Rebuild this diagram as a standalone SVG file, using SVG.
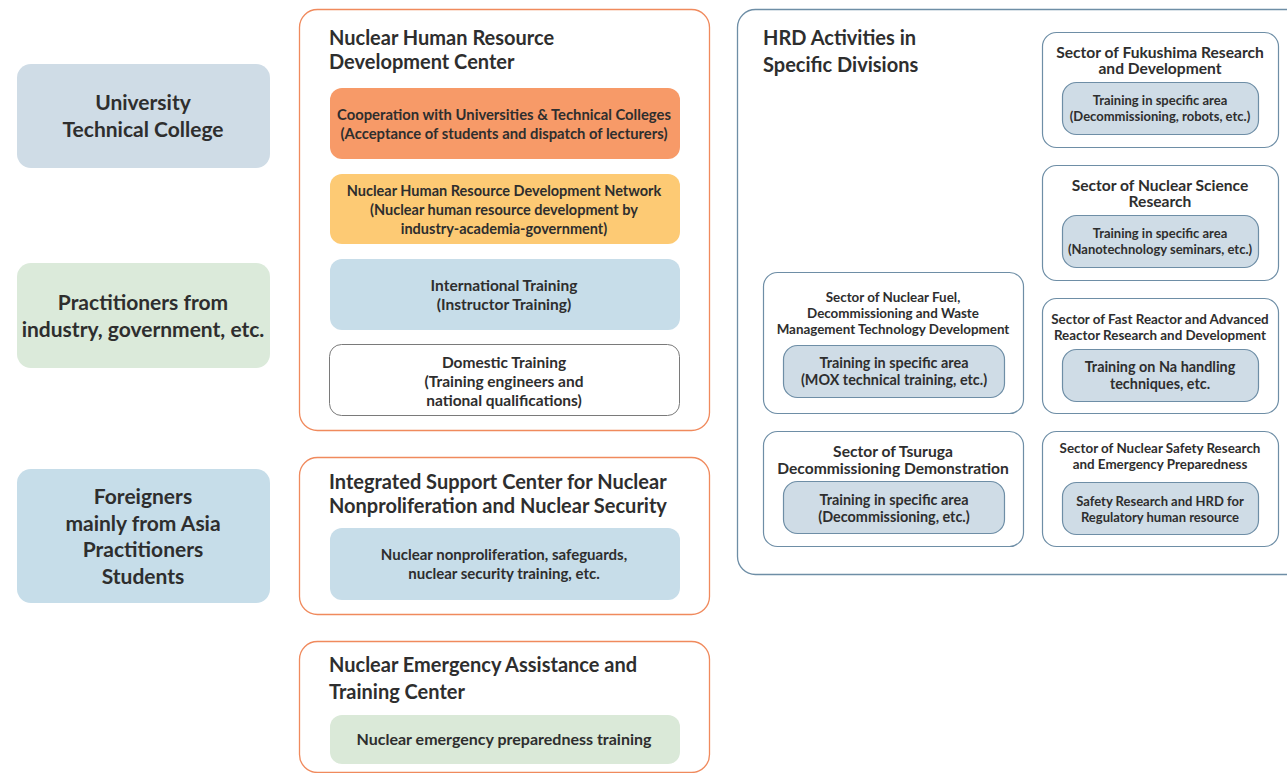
<svg xmlns="http://www.w3.org/2000/svg" width="1287" height="773" viewBox="0 0 1287 773">
<style>
text{font-family:Lato,"Liberation Sans",sans-serif;fill:#2e2e2e;text-anchor:middle}
.h{font-size:20px;font-weight:700;text-anchor:start}
.l{font-size:21px;font-weight:700}
.b{font-size:15.5px;font-weight:700}
.st{font-size:13.4px;font-weight:700}
.sl{font-size:15.6px;font-weight:700}
.in{font-size:13px;font-weight:700}
.il{font-size:14.4px;font-weight:700}
.oc{fill:#fff;stroke:#f08a5d;stroke-width:1.3}
.sc{fill:#fff;stroke:#6e8ea6;stroke-width:1.2}
.ib{fill:#cfdce6;stroke:#6e8ea6;stroke-width:1.2}
</style>
<rect width="1287" height="773" fill="#fff"/>
<g id="left-university"><rect x="17" y="64" width="253" height="104" rx="14" fill="#cfdce6"/><text class="l" x="143" y="110">University</text><text class="l" x="143" y="137">Technical College</text></g>
<g id="left-practitioners"><rect x="17" y="263" width="253" height="105" rx="14" fill="#dbeada"/><text class="l" x="143" y="310">Practitioners from</text><text class="l" x="143" y="337">industry, government, etc.</text></g>
<g id="left-foreigners"><rect x="17" y="469" width="253" height="134" rx="14" fill="#c6dde9"/><text class="l" x="143" y="504">Foreigners</text><text class="l" x="143" y="531">mainly from Asia</text><text class="l" x="143" y="557">Practitioners</text><text class="l" x="143" y="584">Students</text></g>
<g id="nhrdc"><rect class="oc" x="299.5" y="9.5" width="410" height="421" rx="18"/><text class="h" x="329" y="45">Nuclear Human Resource</text><text class="h" x="329" y="69">Development Center</text>
<rect x="330" y="88" width="350" height="71" rx="12" fill="#f79a68"/><text class="b" x="504" y="120" style="font-size:14.8px">Cooperation with Universities &amp; Technical Colleges</text><text class="b" x="504" y="139" style="font-size:14.8px">(Acceptance of students and dispatch of lecturers)</text>
<rect x="330" y="174" width="350" height="70" rx="12" fill="#fdca74"/><text class="b" x="504" y="196" style="font-size:14.5px">Nuclear Human Resource Development Network</text><text class="b" x="504" y="215" style="font-size:14.5px">(Nuclear human resource development by</text><text class="b" x="504" y="234" style="font-size:14.5px">industry-academia-government)</text>
<rect x="330" y="259" width="350" height="71" rx="12" fill="#c7dde9"/><text class="b" x="504" y="291">International Training</text><text class="b" x="504" y="310">(Instructor Training)</text>
<rect x="329.5" y="344.5" width="350" height="71" rx="12" fill="#fff" stroke="#7a7a7a" stroke-width="1"/><text class="b" x="504" y="368">Domestic Training</text><text class="b" x="504" y="387">(Training engineers and</text><text class="b" x="504" y="406">national qualifications)</text></g>
<g id="iscn"><rect class="oc" x="299.5" y="457.5" width="410" height="157" rx="18"/><text class="h" x="329" y="489">Integrated Support Center for Nuclear</text><text class="h" x="329" y="513">Nonproliferation and Nuclear Security</text>
<rect x="330" y="528" width="350" height="72" rx="12" fill="#c7dde9"/><text class="b" x="504" y="560" style="font-size:15px">Nuclear nonproliferation, safeguards,</text><text class="b" x="504" y="579" style="font-size:15px">nuclear security training, etc.</text></g>
<g id="neat"><rect class="oc" x="299.5" y="641.5" width="410" height="131" rx="18"/><text class="h" x="329" y="672">Nuclear Emergency Assistance and</text><text class="h" x="329" y="699">Training Center</text>
<rect x="330" y="715" width="350" height="49" rx="12" fill="#dae9d8"/><text class="b" x="504" y="745" style="font-size:16px">Nuclear emergency preparedness training</text></g>
<g id="hrd"><rect x="737.5" y="9.5" width="570" height="565" rx="18" fill="#fff" stroke="#6e8ea6" stroke-width="1.3"/><text class="h" x="763" y="45">HRD Activities in</text><text class="h" x="763" y="72">Specific Divisions</text></g>
<g id="sector-fukushima"><rect class="sc" x="1042.5" y="32.5" width="236" height="115" rx="14"/><text class="sl" x="1160" y="58">Sector of Fukushima Research</text><text class="sl" x="1160" y="74">and Development</text>
<rect class="ib" x="1062.5" y="82.5" width="196" height="52" rx="14"/><text class="in" x="1160" y="105">Training in specific area</text><text class="in" x="1160" y="121">(Decommissioning, robots, etc.)</text></g>
<g id="sector-science"><rect class="sc" x="1042.5" y="165.5" width="236" height="115" rx="14"/><text class="sl" x="1160" y="191">Sector of Nuclear Science</text><text class="sl" x="1160" y="207">Research</text>
<rect class="ib" x="1062.5" y="215.5" width="196" height="52" rx="14"/><text class="in" x="1160" y="238">Training in specific area</text><text class="in" x="1160" y="254">(Nanotechnology seminars, etc.)</text></g>
<g id="sector-fuel"><rect class="sc" x="763.5" y="272.5" width="260" height="141" rx="14"/><text class="st" x="893" y="302">Sector of Nuclear Fuel,</text><text class="st" x="893" y="318">Decommissioning and Waste</text><text class="st" x="893" y="334">Management Technology Development</text>
<rect class="ib" x="783.5" y="345.5" width="221" height="52" rx="14"/><text class="il" x="894" y="368">Training in specific area</text><text class="il" x="894" y="385">(MOX technical training, etc.)</text></g>
<g id="sector-fast"><rect class="sc" x="1042.5" y="298.5" width="236" height="115" rx="14"/><text class="st" x="1160" y="324">Sector of Fast Reactor and Advanced</text><text class="st" x="1160" y="340">Reactor Research and Development</text>
<rect class="ib" x="1062.5" y="349.5" width="196" height="52" rx="14"/><text class="il" x="1160" y="372">Training on Na handling</text><text class="il" x="1160" y="389">techniques, etc.</text></g>
<g id="sector-tsuruga"><rect class="sc" x="763.5" y="431.5" width="260" height="115" rx="14"/><text class="sl" x="893" y="457">Sector of Tsuruga</text><text class="sl" x="893" y="474">Decommissioning Demonstration</text>
<rect class="ib" x="783.5" y="481.5" width="221" height="52" rx="14"/><text class="il" x="894" y="505">Training in specific area</text><text class="il" x="894" y="522">(Decommissioning, etc.)</text></g>
<g id="sector-safety"><rect class="sc" x="1042.5" y="431.5" width="236" height="115" rx="14"/><text class="st" x="1160" y="453">Sector of Nuclear Safety Research</text><text class="st" x="1160" y="469">and Emergency Preparedness</text>
<rect class="ib" x="1062.5" y="482.5" width="196" height="52" rx="14"/><text class="in" x="1160" y="506">Safety Research and HRD for</text><text class="in" x="1160" y="522">Regulatory human resource</text></g>
<g id="connectors"/>
</svg>
